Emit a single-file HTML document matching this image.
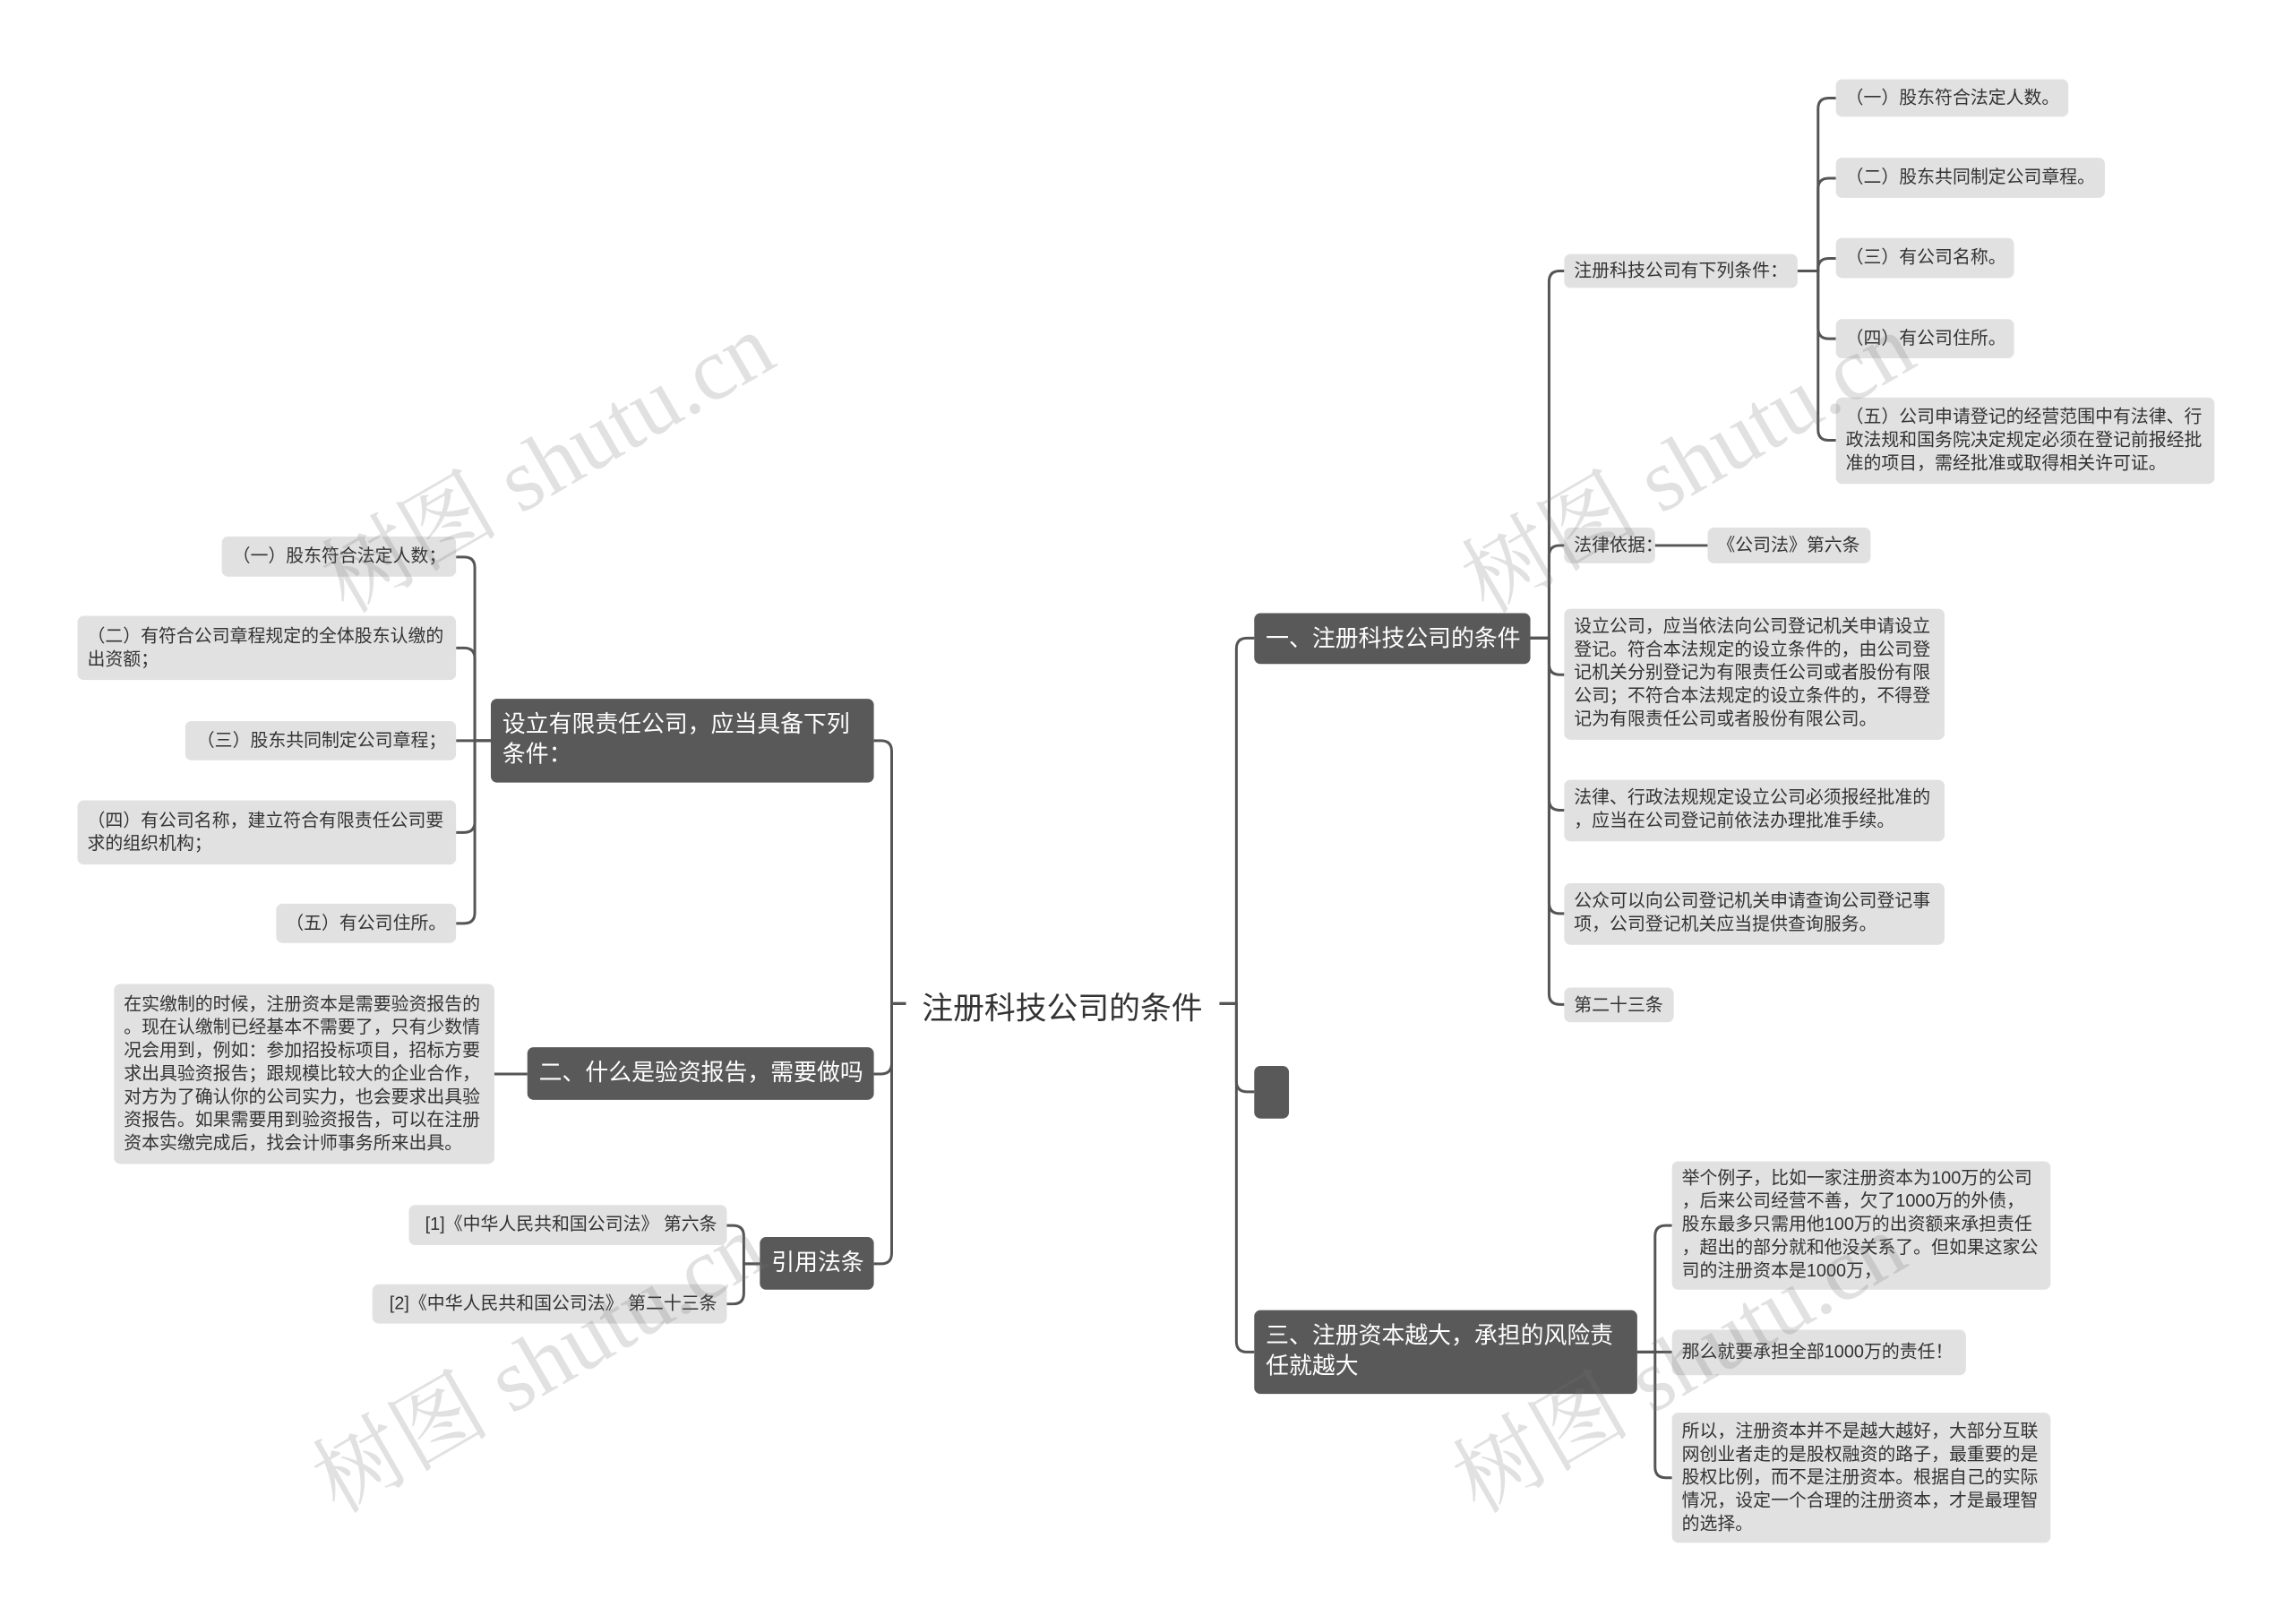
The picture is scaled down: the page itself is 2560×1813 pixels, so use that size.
<!DOCTYPE html>
<html><head><meta charset="utf-8">
<style>
html,body{margin:0;padding:0;background:#fff;}
body{width:2560px;height:1813px;position:relative;overflow:hidden;font-family:"Liberation Sans","Noto Sans CJK SC",sans-serif;}
#w{position:absolute;left:0;top:0;width:2560px;height:1813px;transform:scale(0.9945,0.995);transform-origin:0 0;}
.n{position:absolute;box-sizing:border-box;background:#e1e1e1;border-radius:7px;color:#333;font-size:20px;line-height:26px;padding:7px 11px;white-space:nowrap;}
.n.p{white-space:normal;line-break:anywhere;word-break:break-all;}
.d{position:absolute;box-sizing:border-box;background:#595959;border-radius:7px;color:#fff;font-size:26px;line-height:34px;padding:11px 13px;white-space:nowrap;}
.d.p{white-space:normal;}
.t{position:absolute;font-size:35px;color:#333;white-space:nowrap;}
.wm{position:absolute;font-size:100px;color:rgba(120,120,120,0.22);transform:rotate(-30deg);transform-origin:center;white-space:nowrap;font-family:"Liberation Serif","Noto Serif CJK SC",serif;}
svg{position:absolute;left:0;top:0;}
</style></head><body>
<div id="w">
<svg id="s" width="2560" height="1813"></svg>

<div class="t" style="left:1035px;top:1103px;">注册科技公司的条件</div>

<div class="d" style="left:1408px;top:688px;width:310px;height:57px;">一、注册科技公司的条件</div>
<div class="d" style="left:1408px;top:1196px;width:39px;height:59px;"></div>
<div class="d p" style="left:1408px;top:1470px;width:430px;height:94px;">三、注册资本越大，承担的风险责任就越大</div>

<div class="n" style="left:1756px;top:285px;width:262px;height:38px;padding-top:6px;">注册科技公司有下列条件：</div>
<div class="n" style="left:1756px;top:592px;width:102px;height:40px;">法律依据：</div>
<div class="n" style="left:1917px;top:592px;width:183px;height:40px;">《公司法》第六条</div>
<div class="n p" style="left:1756px;top:683px;width:427px;height:147px;">设立公司，应当依法向公司登记机关申请设立登记。符合本法规定的设立条件的，由公司登记机关分别登记为有限责任公司或者股份有限公司；不符合本法规定的设立条件的，不得登记为有限责任公司或者股份有限公司。</div>
<div class="n p" style="left:1756px;top:875px;width:427px;height:69px;">法律、行政法规规定设立公司必须报经批准的，应当在公司登记前依法办理批准手续。</div>
<div class="n p" style="left:1756px;top:991px;width:427px;height:69px;">公众可以向公司登记机关申请查询公司登记事项，公司登记机关应当提供查询服务。</div>
<div class="n" style="left:1756px;top:1108px;width:123px;height:39px;">第二十三条</div>

<div class="n" style="left:2061px;top:89px;width:261px;height:42px;padding-top:8px;">（一）股东符合法定人数。</div>
<div class="n" style="left:2061px;top:177px;width:302px;height:45px;padding-top:9px;">（二）股东共同制定公司章程。</div>
<div class="n" style="left:2061px;top:267px;width:200px;height:45px;padding-top:9px;">（三）有公司名称。</div>
<div class="n" style="left:2061px;top:358px;width:200px;height:44px;padding-top:9px;">（四）有公司住所。</div>
<div class="n p" style="left:2061px;top:446px;width:425px;height:97px;padding-top:9px;">（五）公司申请登记的经营范围中有法律、行政法规和国务院决定规定必须在登记前报经批准的项目，需经批准或取得相关许可证。</div>

<div class="n p" style="left:1877px;top:1303px;width:425px;height:144px;padding-top:6px;">举个例子，比如一家注册资本为100万的公司，后来公司经营不善，欠了1000万的外债，股东最多只需用他100万的出资额来承担责任，超出的部分就和他没关系了。但如果这家公司的注册资本是1000万，</div>
<div class="n" style="left:1877px;top:1492px;width:330px;height:51px;padding-top:12px;">那么就要承担全部1000万的责任！</div>
<div class="n p" style="left:1877px;top:1585px;width:425px;height:146px;padding-top:8px;">所以，注册资本并不是越大越好，大部分互联网创业者走的是股权融资的路子，最重要的是股权比例，而不是注册资本。根据自己的实际情况，设定一个合理的注册资本，才是最理智的选择。</div>

<div class="d p" style="left:551px;top:784px;width:430px;height:94px;">设立有限责任公司，应当具备下列条件：</div>
<div class="d" style="left:592px;top:1175px;width:389px;height:59px;">二、什么是验资报告，需要做吗</div>
<div class="d" style="left:853px;top:1388px;width:128px;height:59px;">引用法条</div>

<div class="n" style="left:249px;top:602px;width:263px;height:45px;padding-top:9px;text-align:right;">（一）股东符合法定人数；</div>
<div class="n p" style="left:87px;top:691px;width:425px;height:72px;padding-top:10px;">（二）有符合公司章程规定的全体股东认缴的出资额；</div>
<div class="n" style="left:208px;top:809px;width:304px;height:44px;padding-top:9px;text-align:right;">（三）股东共同制定公司章程；</div>
<div class="n p" style="left:87px;top:898px;width:425px;height:72px;padding-top:10px;">（四）有公司名称，建立符合有限责任公司要求的组织机构；</div>
<div class="n" style="left:310px;top:1014px;width:202px;height:44px;padding-top:9px;text-align:right;">（五）有公司住所。</div>

<div class="n p" style="left:128px;top:1104px;width:427px;height:202px;padding-top:10px;">在实缴制的时候，注册资本是需要验资报告的。现在认缴制已经基本不需要了，只有少数情况会用到，例如：参加招投标项目，招标方要求出具验资报告；跟规模比较大的企业合作，对方为了确认你的公司实力，也会要求出具验资报告。如果需要用到验资报告，可以在注册资本实缴完成后，找会计师事务所来出具。</div>

<div class="n" style="left:459px;top:1352px;width:357px;height:45px;padding-top:9px;text-align:right;">[1]《中华人民共和国公司法》 第六条</div>
<div class="n" style="left:418px;top:1441px;width:398px;height:44px;padding-top:9px;text-align:right;">[2]《中华人民共和国公司法》 第二十三条</div>

<div class="wm" style="left:330px;top:440px;">树图 shutu.cn</div>
<div class="wm" style="left:1610px;top:440px;">树图 shutu.cn</div>
<div class="wm" style="left:320px;top:1450px;">树图 shutu.cn</div>
<div class="wm" style="left:1600px;top:1450px;">树图 shutu.cn</div>
</div>

<script>
var s=document.getElementById('s');var out='';
function br(px,py,V,cx,cys){
  cys.forEach(function(cy){
    var r=12, dir=cx>V?1:-1;
    if(Math.abs(cy-py)<2){out+='<path d="M'+px+' '+py+' H'+cx+'"/>';return;}
    var sg=cy<py?1:-1;
    out+='<path d="M'+px+' '+py+' H'+V+' V'+(cy+sg*r)+' Q'+V+' '+cy+' '+(V+dir*r)+' '+cy+' H'+cx+'"/>';
  });
}
out+='<path d="M1003 1126 H1017"/><path d="M1369 1126 H1387"/>';
br(1369,1126,1388,1408,[716,1225,1517]);
br(1017,1126,1001,981,[831,1205,1418]);
br(1718,716,1739,1756,[304,612,757,909,1025,1127]);
br(2018,304,2041,2061,[110,200,290,380,494]);
br(1858,612,1858,1917,[612]);
br(1838,1517,1858,1877,[1375,1517,1658]);
br(551,831,533,512,[625,727,831,934,1036]);
br(592,1205,592,555,[1205]);
br(853,1418,835,816,[1375,1463]);
s.innerHTML='<g fill="none" stroke="#555" stroke-width="3">'+out+'</g>';
</script>
</body></html>
